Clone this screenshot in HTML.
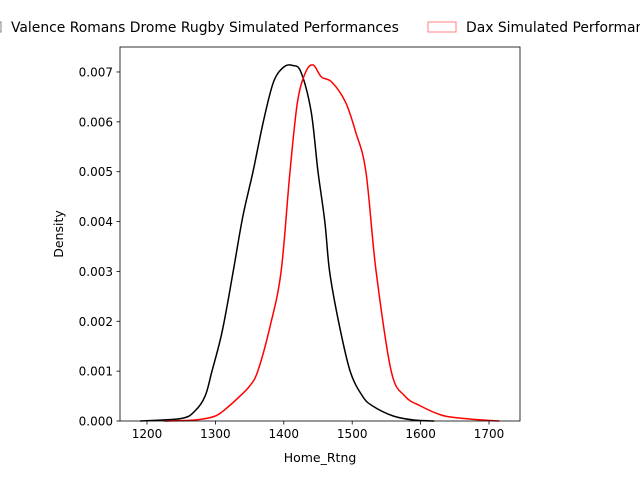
<!DOCTYPE html>
<html><head><meta charset="utf-8"><style>
body{margin:0;background:#fff;}
svg{font-family:"DejaVu Sans","Liberation Sans",sans-serif;}
</style></head><body>
<svg id="chart" width="640" height="480">
<g id="axes"></g>
</svg>
<script>
const xTicks=[1200,1300,1400,1500,1600,1700];
const yTicks=[0,0.001,0.002,0.003,0.004,0.005,0.006,0.007];
const yTickLabels=["0.000","0.001","0.002","0.003","0.004","0.005","0.006","0.007"];
const blackX=[1190,1250,1270,1285,1295,1310,1326,1340,1355,1370,1385,1400,1413,1425,1440,1450,1460,1467,1480,1497,1515,1530,1560,1590,1620];
const blackY=[0,0.00005,0.0002,0.0005,0.001,0.0018,0.003,0.0041,0.005,0.006,0.0068,0.0071,0.00713,0.007,0.0062,0.005,0.004,0.003,0.002,0.001,0.0005,0.0003,0.0001,0.00002,0];
const redX=[1225,1270,1300,1320,1336,1350,1362,1380,1396,1409,1420,1432,1443,1455,1470,1490,1505,1520,1535,1557,1577,1600,1630,1650,1680,1715];
const redY=[0,0.00002,0.0001,0.0003,0.0005,0.0007,0.001,0.0019,0.003,0.005,0.0064,0.007,0.00714,0.0069,0.0068,0.0064,0.0058,0.005,0.003,0.001,0.0005,0.0003,0.00012,0.00007,0.00003,0];
const NS="http://www.w3.org/2000/svg";
const L=120,R=520,T=47,B=421;
const sx=v=>147+(v-1200)*0.684;
const sy=v=>B-v*49860;
const g=document.getElementById('axes');
function el(t,a,txt){const e=document.createElementNS(NS,t);for(const k in a)e.setAttribute(k,a[k]);if(txt!==undefined)e.textContent=txt;g.appendChild(e);return e;}
function path(xs,ys,c,name){
  const P=xs.map((x,i)=>[sx(x),sy(ys[i])]);
  let d='M'+P[0][0].toFixed(1)+','+P[0][1].toFixed(1);
  for(let i=0;i<P.length-1;i++){
    const p0=P[i-1]||P[i],p1=P[i],p2=P[i+1],p3=P[i+2]||P[i+1];
    const c1=[p1[0]+(p2[0]-p0[0])/6,p1[1]+(p2[1]-p0[1])/6];
    const c2=[p2[0]-(p3[0]-p1[0])/6,p2[1]-(p3[1]-p1[1])/6];
    d+='C'+c1.map(v=>v.toFixed(1)).join(',')+' '+c2.map(v=>v.toFixed(1)).join(',')+' '+p2.map(v=>v.toFixed(1)).join(',');
  }
  const p=el('path',{d:d,fill:'none',stroke:c,'stroke-width':1.5,'stroke-linejoin':'round'});
  
  
}
path(blackX,blackY,'#000','valence-density-line');
path(redX,redY,'#f00','dax-density-line');
const fr=el('rect',{x:L,y:T,width:R-L,height:B-T,fill:'none',stroke:'#000','stroke-width':0.8});


xTicks.forEach(v=>{
  el('line',{x1:sx(v),x2:sx(v),y1:B,y2:B+3.5,stroke:'#000','stroke-width':0.8});
  const t=el('text',{x:sx(v),y:B+17,'text-anchor':'middle','font-size':12},v);
  
  
});
yTicks.forEach((v,i)=>{
  el('line',{x1:L-3.5,x2:L,y1:sy(v),y2:sy(v),stroke:'#000','stroke-width':0.8});
  const t=el('text',{x:L-7,y:sy(v)+4.5,'text-anchor':'end','font-size':12},yTickLabels[i]);
  
  
});
const xt=el('text',{x:320,y:462,'text-anchor':'middle','font-size':12.5},'Home_Rtng');


const yt=el('text',{x:63,y:234,'text-anchor':'middle','font-size':12.5,transform:'rotate(-90 63 234)'},'Density');


const p1=el('rect',{x:-27,y:22,width:28,height:10,fill:'none',stroke:'#808080'});


const l1=el('text',{x:11,y:32,'font-size':13.9},'Valence Romans Drome Rugby Simulated Performances');


const p2=el('rect',{x:428,y:22,width:28,height:10,fill:'none',stroke:'#ff8080'});


const l2=el('text',{x:466,y:32,'font-size':13.9},'Dax Simulated Performances');


</script>
</body></html>
